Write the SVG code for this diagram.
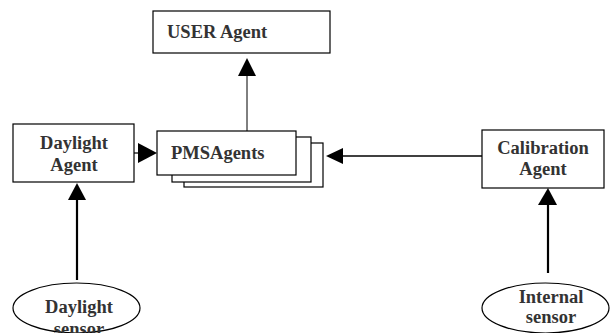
<svg xmlns="http://www.w3.org/2000/svg" width="610" height="333" viewBox="0 0 610 333">
<style>
.box{fill:#fff;stroke:#000;stroke-width:1.2}
.t{font-family:'Liberation Serif','Times New Roman','DejaVu Serif',serif;font-weight:700;font-size:18.5px;fill:#333}
.c{text-anchor:middle}
.ln{stroke:#000;fill:none}
.ah{fill:#000}
</style>
<rect width="610" height="333" fill="#fff"/>
<g id="user-agent">
<rect class="box" x="153" y="11" width="177" height="42"/>
<text class="t" x="167" y="38">USER Agent</text>
</g>
<g id="daylight-agent">
<rect class="box" x="13" y="124" width="121" height="58"/>
<text class="t c" x="74" y="149">Daylight</text>
<text class="t c" x="74" y="171">Agent</text>
</g>
<g id="pms-agents">
<rect class="box" x="184" y="143" width="139" height="44"/>
<rect class="box" x="172" y="137" width="139" height="45"/>
<rect class="box" x="157" y="131" width="139" height="44"/>
<text class="t" x="171" y="159">PMSAgents</text>
</g>
<g id="calibration-agent">
<rect class="box" x="482" y="130" width="122" height="58"/>
<text class="t c" x="543" y="154">Calibration</text>
<text class="t c" x="543" y="175">Agent</text>
</g>
<g id="daylight-sensor">
<ellipse class="box" cx="76.5" cy="308" rx="63.5" ry="25"/>
<text class="t c" x="79" y="313">Daylight</text>
<text class="t c" x="79" y="335">sensor</text>
</g>
<g id="internal-sensor">
<ellipse class="box" cx="545.5" cy="308" rx="63.5" ry="25"/>
<text class="t c" x="551" y="303">Internal</text>
<text class="t c" x="551" y="323">sensor</text>
</g>
<g id="connectors">
<line class="ln" x1="247" y1="131" x2="247" y2="76" stroke-width="1"/>
<polygon class="ah" points="247,58 256,76 238,76"/>
<line class="ln" x1="134" y1="153" x2="139" y2="153" stroke-width="1.2"/>
<polygon class="ah" points="157,153 138,143 138,163"/>
<line class="ln" x1="482" y1="156" x2="342" y2="156" stroke-width="1.3"/>
<polygon class="ah" points="326,156 343,148 343,164"/>
<line class="ln" x1="77" y1="280" x2="77" y2="199" stroke-width="2.2"/>
<polygon class="ah" points="77,183 86,200 68,200"/>
<line class="ln" x1="548" y1="273" x2="548" y2="204" stroke-width="2.2"/>
<polygon class="ah" points="548,188 557,205 538,205"/>
</g>
</svg>
